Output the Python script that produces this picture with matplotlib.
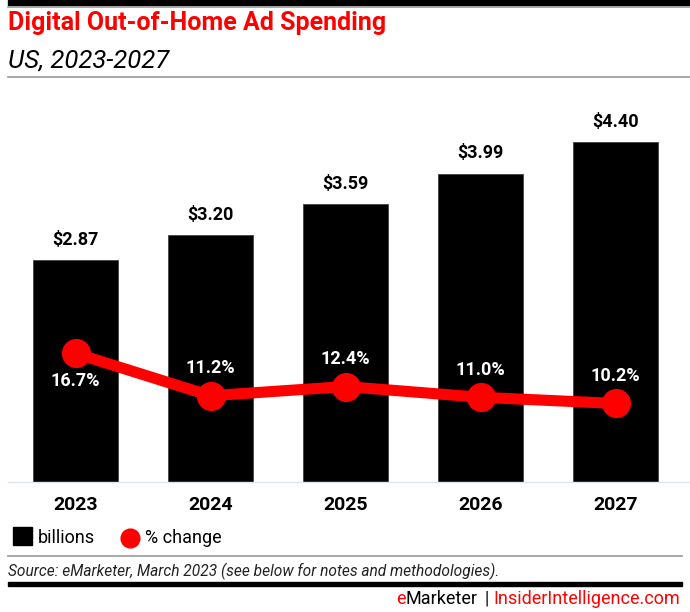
import matplotlib.pyplot as plt
from matplotlib.lines import Line2D
from matplotlib.patches import Rectangle

# Data
years = ['2023', '2024', '2025', '2026', '2027']
billions = [2.87, 3.20, 3.59, 3.99, 4.40]
pct_change = [16.7, 11.2, 12.4, 11.0, 10.2]
pct_label_above = [False, True, True, True, True]

RED = '#ff0000'
plt.rcParams['font.family'] = ['Roboto', 'DejaVu Sans']

fig = plt.figure(figsize=(6.9, 6.12), dpi=100)
W, H = 690, 612


def fx(px):
    return px / W


def fy(py):
    return 1 - py / H


# header
fig.add_artist(Rectangle((fx(8), fy(5)), fx(682), 5 / H, color='black', transform=fig.transFigure))
fig.add_artist(Line2D([fx(8), 1], [fy(6.5)] * 2, color='#999999', lw=1.2, transform=fig.transFigure))
fig.text(fx(8), fy(23), 'Digital Out-of-Home Ad Spending', color=RED, fontsize=18,
         fontweight='bold', va='center', ha='left')
fig.text(fx(8), fy(61), 'US, 2023-2027', color='black', fontsize=18.5, style='italic',
         va='center', ha='left')
fig.add_artist(Line2D([fx(8), 1], [fy(77)] * 2, color='#999999', lw=1.2, transform=fig.transFigure))

# axes: baseline at y=482, top at y=100
ax = fig.add_axes([fx(8), fy(482), fx(682), (482 - 100) / H])
x = range(len(years))
bar_w = 85 / 135
ax.bar(x, billions, width=bar_w, color='black', edgecolor='#444444', linewidth=0.6, zorder=2)
ax.set_xlim(-0.5, -0.5 + 682 / 135)
ax.set_ylim(0, 382 / 77.3)
for i, v in enumerate(billions):
    ax.annotate(f'${v:.2f}', xy=(i, v), xytext=(0, 8), textcoords='offset points',
                ha='center', va='bottom', fontsize=13, fontweight='bold', color='black')

ax.set_xticks(list(x))
ax.set_xticklabels(years, fontsize=14, fontweight='bold')
ax.tick_params(axis='x', length=0, pad=10)
ax.set_yticks([])
for s in ['top', 'right', 'left']:
    ax.spines[s].set_visible(False)
ax.spines['bottom'].set_color('#dde3ee')
ax.spines['bottom'].set_linewidth(1)

ax2 = ax.twinx()
ax2.set_ylim(0, 382 / 7.7)
ax2.plot(list(x), pct_change, color=RED, lw=8, marker='o', markersize=20,
         solid_capstyle='round', zorder=3)
ax2.set_yticks([])
for s in ax2.spines.values():
    s.set_visible(False)
for i, v in enumerate(pct_change):
    off = 20 if pct_label_above[i] else -20
    ax2.annotate(f'{v:.1f}%', xy=(i, v), xytext=(0, off), textcoords='offset points',
                 ha='center', va='center', fontsize=13, fontweight='bold', color='white')

# legend
fig.add_artist(Rectangle((fx(13), fy(545)), 19 / W, 18 / H, color='black', transform=fig.transFigure))
fig.text(fx(38), fy(538), 'billions', fontsize=13, va='center', ha='left')
fig.add_artist(Line2D([fx(130)], [fy(538)], marker='o', markersize=13.5, color=RED,
                      transform=fig.transFigure))
fig.text(fx(145), fy(538), '% change', fontsize=13, va='center', ha='left')

# footer
fig.add_artist(Line2D([fx(8), fx(682)], [fy(556)] * 2, color='#999999', lw=1.2,
                      transform=fig.transFigure))
fig.text(fx(8), fy(571), 'Source: eMarketer, March 2023 (see below for notes and methodologies).',
         fontsize=11.2, style='italic', va='center', ha='left', color='#222222')
fig.add_artist(Rectangle((fx(8), fy(586)), fx(674), 4.5 / H, color='black', transform=fig.transFigure))

t1 = fig.text(fx(680), fy(599), 'InsiderIntelligence.com', color=RED, fontsize=13,
              va='center', ha='right')
fig.canvas.draw()
bb = t1.get_window_extent()
fig.text(bb.x0 / W - 7 / W, fy(598), '|', color='black', fontsize=13, va='center', ha='center')
t2 = fig.text(bb.x0 / W - 16 / W, fy(599), 'Marketer', color='black', fontsize=13,
              va='center', ha='right')
bb2 = t2.get_window_extent()
fig.text(bb2.x0 / W, fy(599), 'e', color=RED, fontsize=13, va='center', ha='right')

fig.savefig('out.png', dpi=100)
